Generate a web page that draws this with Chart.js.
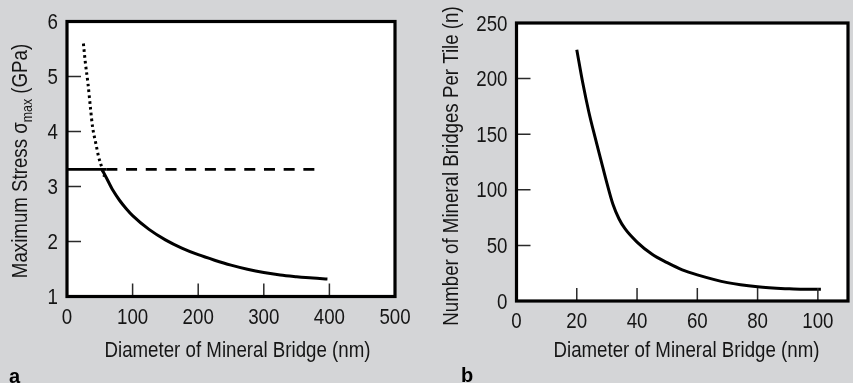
<!DOCTYPE html>
<html>
<head>
<meta charset="utf-8">
<script src="https://cdn.jsdelivr.net/npm/chart.js@4.4.1/dist/chart.umd.min.js"></script>
<style>
  html, body { margin: 0; padding: 0; background: #d4d5d7; }
  body { width: 853px; height: 383px; position: relative; overflow: hidden; }
  .panel { position: absolute; top: 0; height: 383px; }
  #pa { left: 0; width: 430px; }
  #pb { left: 430px; width: 423px; }
</style>
</head>
<body>
<div class="panel" id="pa"><canvas id="ca" width="430" height="383"></canvas></div>
<div class="panel" id="pb"><canvas id="cb" width="423" height="383"></canvas></div>
<script>
// ---- Panel a data ----
const aSolidX = [53.3, 60, 70, 80, 90, 100, 125, 150, 175, 200, 225, 250, 275, 300, 325, 350, 375, 397];
const aSolidY = [3.31, 3.16, 2.93, 2.75, 2.60, 2.47, 2.22, 2.03, 1.88, 1.76, 1.66, 1.57, 1.495, 1.435, 1.39, 1.36, 1.335, 1.32];
const aDotX = [25, 28, 32, 36, 39, 44, 48, 54, 57];
const aDotY = [5.6, 5.25, 4.87, 4.4, 4.08, 3.78, 3.55, 3.31, 3.18];
const aLimitSolidX = [0, 60];
const aLimitDashX = [60, 378];
const aLimitY = 3.31;
const aXTicks = [0, 100, 200, 300, 400, 500];
const aYTicks = [1, 2, 3, 4, 5, 6];

// ---- Panel b data ----
const bX = [20, 22, 24, 26, 28, 30, 32, 34, 36, 40, 45, 50, 55, 60, 70, 80, 90, 95, 101];
const bY = [226, 196, 170, 148, 127, 106, 87, 74, 65, 53, 42, 34.5, 28, 23.5, 16.5, 12.8, 11, 10.5, 10.5];
const bXTicks = [0, 20, 40, 60, 80, 100];
const bYTicks = [0, 50, 100, 150, 200, 250];

const FONT = '"Liberation Sans", Arial, sans-serif';
const TXT = '#151515';

function pts(xs, ys) {
  return xs.map((x, i) => ({ x: x, y: Array.isArray(ys) ? ys[i] : ys }));
}

function txt(ctx, s, x, y, size, sx, align, rot) {
  ctx.save();
  ctx.translate(x, y);
  if (rot) ctx.rotate(rot);
  ctx.scale(sx, 1);
  ctx.font = size + 'px ' + FONT;
  ctx.textAlign = align;
  ctx.textBaseline = 'alphabetic';
  ctx.fillText(s, 0, 0);
  ctx.restore();
}
function txtW(ctx, s, size, sx) {
  ctx.save();
  ctx.font = size + 'px ' + FONT;
  const w = ctx.measureText(s).width * sx;
  ctx.restore();
  return w;
}

const TICK_SIZE = 21.5, TICK_SX = 0.87;
const TITLE_SIZE = 22, TITLE_SX = 0.85, SUB_SIZE = 14.5;

function framePlugin(opts) {
  return {
    id: 'frame_' + opts.id,
    beforeDraw(chart) {
      const a = chart.chartArea, ctx = chart.ctx;
      ctx.save();
      ctx.fillStyle = '#ffffff';
      ctx.fillRect(a.left, a.top, a.right - a.left, a.bottom - a.top);
      ctx.restore();
    },
    afterDatasetsDraw(chart) {
      const a = chart.chartArea, ctx = chart.ctx;
      const xs = chart.scales.x, ys = chart.scales.y;
      ctx.save();
      ctx.strokeStyle = '#2a2a2a';
      ctx.lineWidth = 1.5;
      ctx.beginPath();
      opts.xInner.forEach(v => {
        const px = xs.getPixelForValue(v);
        ctx.moveTo(px, a.bottom);
        ctx.lineTo(px, a.bottom - 13);
      });
      opts.yInner.forEach(v => {
        const py = ys.getPixelForValue(v);
        ctx.moveTo(a.left, py);
        ctx.lineTo(a.left + 14, py);
      });
      ctx.stroke();
      ctx.strokeStyle = '#000';
      ctx.lineWidth = 3.2;
      ctx.strokeRect(a.left, a.top, a.right - a.left, a.bottom - a.top);
      ctx.restore();
    },
    afterDraw(chart) {
      const ctx = chart.ctx, a = chart.chartArea;
      const xs = chart.scales.x, ys = chart.scales.y;
      ctx.save();
      ctx.fillStyle = TXT;
      xs.ticks.forEach(t => {
        txt(ctx, String(t.value), xs.getPixelForValue(t.value), a.bottom + opts.xLabelDy,
            TICK_SIZE, TICK_SX, 'center');
      });
      ys.ticks.forEach(t => {
        txt(ctx, String(t.value), a.left - opts.yLabelGap, ys.getPixelForValue(t.value) + 7.5,
            TICK_SIZE, TICK_SX, 'right');
      });
      txt(ctx, opts.xTitle, opts.xTitlePos[0], opts.xTitlePos[1], TITLE_SIZE, TITLE_SX, 'center');
      const parts = opts.yTitleParts;
      let total = 0;
      parts.forEach(p => { p.w = txtW(ctx, p.t, p.sub ? SUB_SIZE : TITLE_SIZE, TITLE_SX); total += p.w; });
      let off = -total / 2;
      parts.forEach(p => {
        const px = opts.yTitlePos[0] + (p.sub ? 5 : 0);
        const py = opts.yTitlePos[1] - off;
        txt(ctx, p.t, px, py, p.sub ? SUB_SIZE : TITLE_SIZE, TITLE_SX, 'left', -Math.PI / 2);
        off += p.w;
      });
      ctx.restore();
      ctx.save();
      ctx.fillStyle = '#000';
      ctx.font = 'bold 20px ' + FONT;
      ctx.textAlign = 'left';
      ctx.textBaseline = 'alphabetic';
      ctx.fillText(opts.letter, opts.letterPos[0], opts.letterPos[1]);
      ctx.restore();
    }
  };
}

function makeScales(xMin, xMax, xStep, yMin, yMax, yStep, yWidth, xHeight) {
  return {
    x: {
      type: 'linear', min: xMin, max: xMax,
      grid: { display: false, drawTicks: false },
      border: { display: false },
      afterFit(s) { s.height = xHeight; },
      ticks: { display: false, stepSize: xStep, includeBounds: false }
    },
    y: {
      type: 'linear', min: yMin, max: yMax,
      grid: { display: false, drawTicks: false },
      border: { display: false },
      afterFit(s) { s.width = yWidth; },
      ticks: { display: false, stepSize: yStep, includeBounds: false }
    }
  };
}

const common = {
  responsive: false,
  animation: false,
  plugins: { legend: { display: false }, tooltip: { enabled: false } },
  elements: { point: { radius: 0 } }
};

new Chart(document.getElementById('ca'), {
  type: 'scatter',
  data: {
    datasets: [
      { data: pts(aDotX, aDotY), showLine: true, borderColor: '#000', borderWidth: 3,
        borderDash: [2.6, 3.2], borderCapStyle: 'butt', cubicInterpolationMode: 'monotone', pointRadius: 0 },
      { data: pts(aLimitSolidX, aLimitY), showLine: true, borderColor: '#000', borderWidth: 2.8, pointRadius: 0 },
      { data: pts(aLimitDashX, aLimitY), showLine: true, borderColor: '#000', borderWidth: 2.8,
        borderDash: [11, 8.7], borderCapStyle: 'butt', pointRadius: 0 },
      { data: pts(aSolidX, aSolidY), showLine: true, borderColor: '#000', borderWidth: 3,
        cubicInterpolationMode: 'monotone', pointRadius: 0 }
    ]
  },
  options: Object.assign({}, common, {
    layout: { padding: { top: 21.5, right: 35, bottom: 0, left: 0 } },
    scales: makeScales(aXTicks[0], aXTicks[aXTicks.length - 1], 100,
                       aYTicks[0], aYTicks[aYTicks.length - 1], 1, 67, 86.5)
  }),
  plugins: [framePlugin({
    id: 'a',
    xInner: aXTicks.slice(1, -1),
    yInner: aYTicks.slice(1, -1),
    xLabelDy: 27.5,
    yLabelGap: 9,
    xTitle: 'Diameter of Mineral Bridge (nm)',
    xTitlePos: [237.5, 357],
    yTitleParts: [{ t: 'Maximum Stress σ' }, { t: 'max', sub: true }, { t: ' (GPa)' }],
    yTitlePos: [27, 161],
    letter: 'a',
    letterPos: [9, 383]
  })]
});

new Chart(document.getElementById('cb'), {
  type: 'scatter',
  data: {
    datasets: [
      { data: pts(bX, bY), showLine: true, borderColor: '#000', borderWidth: 3,
        cubicInterpolationMode: 'monotone', pointRadius: 0 }
    ]
  },
  options: Object.assign({}, common, {
    layout: { padding: { top: 23, right: 5, bottom: 0, left: 0 } },
    scales: makeScales(0, 110, 20, bYTicks[0], bYTicks[bYTicks.length - 1], 50, 86.5, 82)
  }),
  plugins: [framePlugin({
    id: 'b',
    xInner: bXTicks.slice(1),
    yInner: bYTicks.slice(1, -1),
    xLabelDy: 27,
    yLabelGap: 9,
    xTitle: 'Diameter of Mineral Bridge (nm)',
    xTitlePos: [686.5 - 430, 357],
    yTitleParts: [{ t: 'Number of Mineral Bridges Per Tile (n)' }],
    yTitlePos: [458 - 430, 166],
    letter: 'b',
    letterPos: [461 - 430, 382]
  })]
});
</script>
</body>
</html>
